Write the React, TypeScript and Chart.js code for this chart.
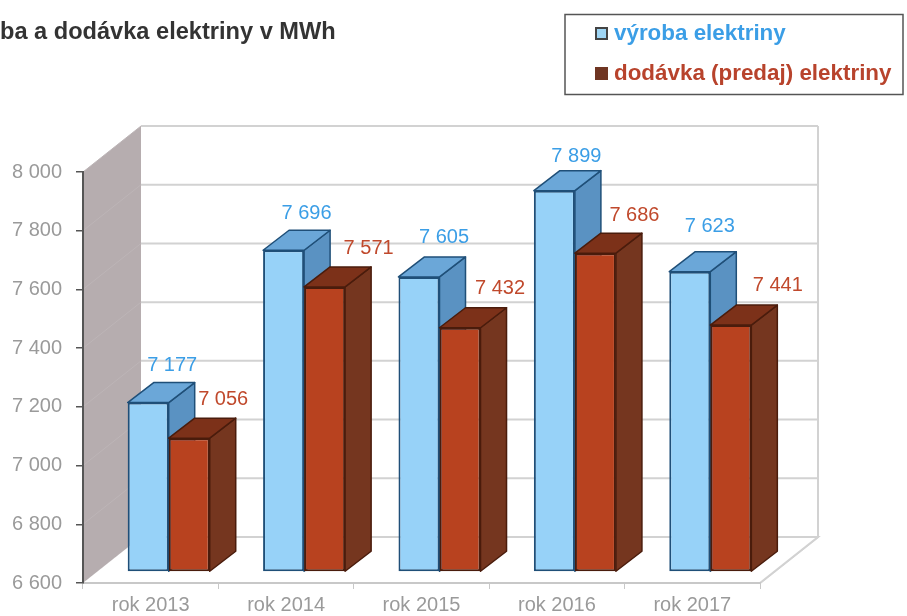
import React, { useEffect, useRef } from "react";
import { Chart, registerables } from "chart.js";

Chart.register(...registerables);

const categories = ["rok 2013", "rok 2014", "rok 2015", "rok 2016", "rok 2017"];
const vyroba = [7177, 7696, 7605, 7899, 7623];
const dodavka = [7056, 7571, 7432, 7686, 7441];
const seriesNames = ["výroba elektriny", "dodávka (predaj) elektriny"];
const titleText = "ba a dodávka elektriny v MWh";

const fmt = (v: number) => {
  const s = String(Math.round(v));
  return s.slice(0, -3) + " " + s.slice(-3);
};

const WALL = { dx: 58, dy: -46 };
const BAR_SHIFT = { dx: 18, dy: -11 };
const BAR_DEPTH = { dx: 26, dy: -20 };
const faces = [
  { front: "#97d2f8", top: "#6ba7d8", side: "#5a92c2", edge: "#1f4f78", text: "#3b9ee6", legendText: "#3b9ee6", marker: "#9fd6f5", markerEdge: "#444" },
  { front: "#b8421f", top: "#7c3119", side: "#75361f", edge: "#4a1c0c", text: "#c0492c", legendText: "#b8432c", marker: "#6f3522", markerEdge: "#6f3522" },
];
const labelNudge = [
  [[24, -37], [23, -37], [25, -39], [22, -34], [20, -45]],
  [[34, -39], [44, -38], [40, -39], [39, -38], [47, -40]],
];

const poly = (ctx: CanvasRenderingContext2D, pts: number[][], fill?: string, stroke?: string, lw = 1) => {
  ctx.beginPath();
  pts.forEach((p, i) => (i ? ctx.lineTo(p[0], p[1]) : ctx.moveTo(p[0], p[1])));
  ctx.closePath();
  if (fill) { ctx.fillStyle = fill; ctx.fill(); }
  if (stroke) { ctx.strokeStyle = stroke; ctx.lineWidth = lw; ctx.lineJoin = "round"; ctx.stroke(); }
};

const scene = {
  id: "scene",
  beforeDraw(chart: any) {
    const { ctx, chartArea: a, scales } = chart;
    const y = scales.y;
    ctx.save();
    ctx.fillStyle = "#ffffff";
    ctx.fillRect(0, 0, chart.width, chart.height);
    // left wall
    poly(ctx, [[a.left, a.top], [a.left + WALL.dx, a.top + WALL.dy], [a.left + WALL.dx, a.bottom + WALL.dy], [a.left, a.bottom]], "#b6adaf");
    // back wall grid
    ctx.strokeStyle = "#d2d2d2";
    ctx.lineWidth = 2;
    y.ticks.forEach((t: any) => {
      const py = y.getPixelForValue(t.value) + WALL.dy;
      ctx.beginPath();
      ctx.moveTo(a.left + WALL.dx, py);
      ctx.lineTo(a.right + WALL.dx, py);
      ctx.stroke();
    });
    // right edge of back wall + floor edge
    ctx.beginPath();
    ctx.moveTo(a.right + WALL.dx, a.top + WALL.dy);
    ctx.lineTo(a.right + WALL.dx, a.bottom + WALL.dy);
    ctx.lineTo(a.right, a.bottom);
    ctx.stroke();
    // faint wall-depth lines on the left wall
    ctx.strokeStyle = "#bdb5b7";
    ctx.lineWidth = 1;
    y.ticks.forEach((t: any) => {
      const py = y.getPixelForValue(t.value);
      ctx.beginPath();
      ctx.moveTo(a.left, py);
      ctx.lineTo(a.left + WALL.dx, py + WALL.dy);
      ctx.stroke();
    });
    // floor
    poly(ctx, [[a.left, a.bottom], [a.left + WALL.dx, a.bottom + WALL.dy], [a.right + WALL.dx, a.bottom + WALL.dy], [a.right, a.bottom]], "#ffffff");
    ctx.strokeStyle = "#d2d2d2";
    ctx.lineWidth = 2;
    ctx.beginPath();
    ctx.moveTo(a.left + WALL.dx, a.bottom + WALL.dy);
    ctx.lineTo(a.right + WALL.dx, a.bottom + WALL.dy);
    ctx.lineTo(a.right, a.bottom);
    ctx.stroke();

    // title (cropped at the left edge as in the source)
    ctx.font = "bold 23.6px 'Liberation Sans', Arial, sans-serif";
    ctx.fillStyle = "#333333";
    ctx.textAlign = "left";
    ctx.textBaseline = "alphabetic";
    ctx.fillText(titleText, 0, 39);

    // legend box
    ctx.strokeStyle = "#555555";
    ctx.lineWidth = 1.5;
    ctx.strokeRect(565, 14.5, 338, 80);
    const legendY = [33, 73];
    seriesNames.forEach((name, i) => {
      const f = faces[i];
      ctx.fillStyle = f.marker;
      ctx.strokeStyle = f.markerEdge;
      ctx.lineWidth = 2;
      ctx.fillRect(596, legendY[i] - 5, 11, 11);
      ctx.strokeRect(596, legendY[i] - 5, 11, 11);
      ctx.font = "bold 22.4px 'Liberation Sans', Arial, sans-serif";
      ctx.fillStyle = f.legendText;
      ctx.textBaseline = "middle";
      ctx.fillText(name, 614, legendY[i] + 1);
    });
    ctx.restore();
  },
  beforeDatasetDraw() {
    return false;
  },
  afterDatasetsDraw(chart: any) {
    const { ctx } = chart;
    ctx.save();
    ctx.translate(BAR_SHIFT.dx, BAR_SHIFT.dy);
    [0, 1].forEach((di) => {
      const meta = chart.getDatasetMeta(di);
      const f = faces[di];
      meta.data.forEach((el: any) => {
        const l = el.x - el.width / 2;
        const r = el.x + el.width / 2;
        const t = el.y;
        const b = el.base;
        const d = BAR_DEPTH;
        poly(ctx, [[r, t], [r + d.dx, t + d.dy], [r + d.dx, b + d.dy], [r, b]], f.side, f.edge, 1.5);
        poly(ctx, [[l, t], [l + d.dx, t + d.dy], [r + d.dx, t + d.dy], [r, t]], f.top, f.edge, 1.5);
        el.draw(ctx);
      });
    });
    ctx.font = "20px 'Liberation Sans', Arial, sans-serif";
    ctx.textAlign = "center";
    ctx.textBaseline = "middle";
    [0, 1].forEach((di) => {
      const meta = chart.getDatasetMeta(di);
      meta.data.forEach((el: any, i: number) => {
        const n = labelNudge[di][i];
        ctx.fillStyle = faces[di].text;
        ctx.fillText(fmt(chart.data.datasets[di].data[i]), el.x + n[0], el.y + n[1]);
      });
    });
    ctx.restore();
  },
};

export default function App() {
  const ref = useRef<HTMLCanvasElement>(null);
  useEffect(() => {
    document.body.style.margin = "0";
    const chart = new Chart(ref.current as HTMLCanvasElement, {
      type: "bar",
      data: {
        labels: categories,
        datasets: [
          { label: seriesNames[0], data: vyroba, base: 6600, backgroundColor: faces[0].front, borderColor: faces[0].edge, borderWidth: 2, borderSkipped: false, clip: false as any },
          { label: seriesNames[1], data: dodavka, base: 6600, backgroundColor: faces[1].front, borderColor: faces[1].edge, borderWidth: 2, borderSkipped: false, clip: false as any },
        ],
      },
      options: {
        responsive: false,
        animation: false,
        layout: { padding: { left: 0, top: 172, right: 147, bottom: 0 } },
        plugins: { legend: { display: false }, title: { display: false }, tooltip: { enabled: false } },
        datasets: { bar: { categoryPercentage: 0.606, barPercentage: 1 } },
        scales: {
          x: {
            afterFit: (s: any) => { s.height = 33; },
            border: { color: "#c8c8c8", width: 2 },
            grid: { drawOnChartArea: false, tickLength: 6, color: "#c8c8c8", lineWidth: 1 },
            ticks: { color: "#9a9a9a", font: { family: "'Liberation Sans', Arial, sans-serif", size: 20 }, padding: 4, maxRotation: 0 },
          },
          y: {
            min: 6600,
            max: 8000,
            afterFit: (s: any) => { s.width = 83; },
            border: { color: "#555555", width: 2 },
            grid: { drawOnChartArea: false, tickLength: 7, tickColor: "#555555", lineWidth: 1.5 },
            ticks: {
              stepSize: 200,
              padding: 14,
              color: "#9a9a9a",
              font: { family: "'Liberation Sans', Arial, sans-serif", size: 20 },
              callback: (v: any) => fmt(Number(v)),
            },
          },
        },
      } as any,
      plugins: [scene],
    });
    return () => chart.destroy();
  }, []);
  return <canvas ref={ref} width={907} height={616} style={{ display: "block" }} />;
}
